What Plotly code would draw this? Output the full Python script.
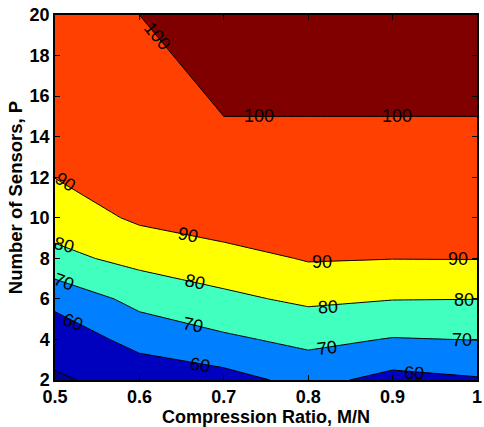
import plotly.graph_objects as go

# Compression ratio (M/N) grid and number of sensors P
ratio = [0.5, 0.6, 0.7, 0.8, 0.9, 1.0]
sensors = [2, 4, 6, 8, 10, 15, 20]

# Performance (%) on the grid: one row per sensor count
perf = [
    [48.9, 53.2, 56.4, 63.0, 56.9, 59.1],   # P = 2
    [53.5, 63.5, 68.3, 72.5, 69.5, 70.2],   # P = 4
    [63.0, 73.0, 78.0, 81.8, 80.3, 80.1],   # P = 6
    [77.4, 82.9, 86.0, 90.8, 90.2, 90.3],   # P = 8
    [84.4, 91.6, 96.0, 95.0, 96.0, 96.0],   # P = 10
    [98.8, 97.0, 100.0, 100.0, 100.0, 100.0],  # P = 15
    [99.5, 100.0, 100.0, 100.0, 100.0, 100.0],  # P = 20
]

levels = [50, 60, 70, 80, 90, 100]

# band colours (jet-like), lowest band first
band_colors = ["#00008F", "#0000BF", "#0080FF", "#40FFBF",
               "#FFFF00", "#FF4000", "#800000"]

# inline contour labels: level, ratio, sensors, rotation (deg, clockwise)
label_level = [100, 100, 100, 90, 90, 90, 90, 80, 80, 80, 80, 70, 70, 70, 70, 60, 60, 60]
label_x = [0.621, 0.742, 0.905, 0.512, 0.658, 0.816, 0.978, 0.511, 0.666, 0.824, 0.984,
           0.511, 0.664, 0.822, 0.982, 0.521, 0.672, 0.925]
label_y = [18.95, 15.0, 15.0, 11.74, 9.15, 7.83, 7.95, 8.66, 6.85, 5.61, 5.94,
           6.85, 4.71, 3.56, 3.97, 4.87, 2.74, 2.36]
label_angle = [50, 0, 0, 33, 12, 0, 0, 15, 12, -3, 0, 20, 12, -8, 0, 20, 8, 3]

# a region is "at or above" a level (z >= level), so the levels sit a hair below
tol = 1e-6
step = levels[1] - levels[0]
n = len(band_colors) - 1
colorscale = [[i / n, c] for i, c in enumerate(band_colors)]

fig = go.Figure()
fig.add_trace(go.Contour(
    x=ratio, y=sensors, z=perf,
    colorscale=colorscale,
    showscale=False,
    autocontour=False,
    contours=dict(start=levels[0] - tol, end=levels[-1] - tol, size=step,
                  coloring="fill", showlabels=False),
    line=dict(color="black", width=1, smoothing=0),
    hoverinfo="skip",
))

font_family = "Liberation Sans, Arial, Helvetica, sans-serif"
for lv, lx, ly, la in zip(label_level, label_x, label_y, label_angle):
    fig.add_annotation(x=lx, y=ly, xref="x", yref="y", text=str(lv),
                       textangle=la, showarrow=False,
                       font=dict(family=font_family, size=18, color="black"))

axis_common = dict(
    showgrid=False, zeroline=False,
    ticks="inside", ticklen=5, tickwidth=1, tickcolor="black",
    showline=True, linecolor="black", linewidth=1.5, mirror="allticks",
    tickfont=dict(family=font_family, size=18, color="black", weight="bold"),
    ticklabeloverflow="allow",
)

fig.update_xaxes(
    range=[0.5, 1.0], tickvals=[0.5, 0.6, 0.7, 0.8, 0.9, 1.0],
    ticktext=["0.5", "0.6", "0.7", "0.8", "0.9", "1"],
    title=dict(text="Compression Ratio, M/N", standoff=2,
               font=dict(family=font_family, size=18, color="black", weight="bold")),
    ticklabelstandoff=0,
    **axis_common,
)
fig.update_yaxes(
    range=[2, 20], tickvals=list(range(2, 21, 2)),
    title=dict(text="Number of Sensors, P", standoff=2,
               font=dict(family=font_family, size=18.5, color="black", weight="bold")),
    ticklabelstandoff=0,
    **axis_common,
)

fig.update_layout(
    width=484, height=427,
    margin=dict(l=55, r=2, t=15, b=47),
    paper_bgcolor="white", plot_bgcolor="white",
    showlegend=False,
)

fig.write_html("out.html")
